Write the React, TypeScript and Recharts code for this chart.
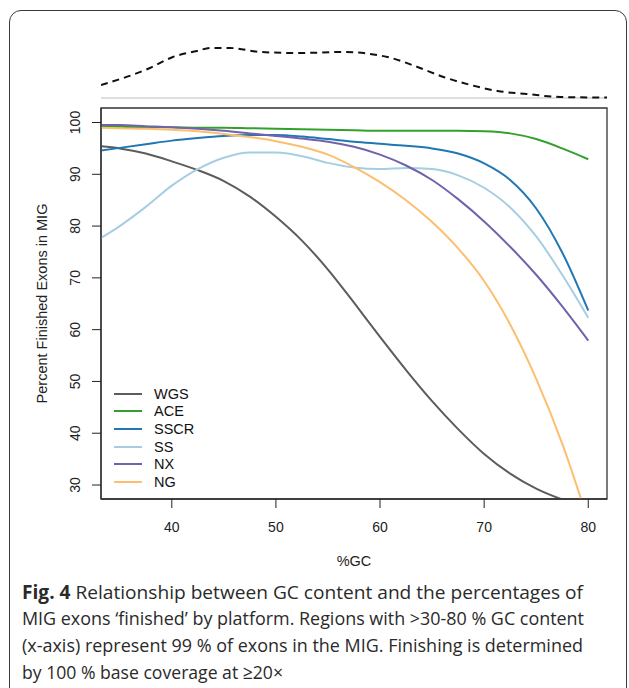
import React from 'react';
import { LineChart, Line, XAxis, YAxis, Legend, Label, ReferenceArea, ReferenceLine } from 'recharts';

// %GC sample positions shared by every platform curve
const gcPoints = [33.2, 35, 37.5, 40, 42.5, 45, 47.5, 50, 52.5, 55, 57.5, 60, 62.5, 65, 67.5, 70, 72.5, 75, 77.5, 80];

const wgs = [95.4, 95.0, 94.0, 92.5, 90.8, 88.7, 85.7, 81.8, 77.2, 71.6, 65.2, 58.6, 52.2, 46.2, 40.8, 36.0, 32.2, 29.3, 27.2, 25.6];
const ace = [99.2, 99.2, 99.1, 99.1, 99.0, 99.0, 98.9, 98.8, 98.7, 98.6, 98.5, 98.4, 98.4, 98.4, 98.4, 98.3, 97.9, 96.8, 95.0, 92.9];
const sscr = [94.6, 95.1, 95.8, 96.5, 97.0, 97.4, 97.6, 97.6, 97.3, 96.8, 96.3, 95.9, 95.5, 95.0, 94.0, 92.1, 88.9, 83.4, 74.9, 63.7];
const ss = [77.7, 80.0, 83.7, 87.8, 91.0, 93.2, 94.2, 94.2, 93.5, 92.2, 91.3, 91.0, 91.2, 91.0, 89.8, 87.4, 83.6, 78.0, 70.6, 62.3];
const nx = [99.5, 99.5, 99.3, 99.1, 98.8, 98.4, 97.9, 97.4, 96.9, 96.3, 95.3, 93.8, 91.7, 88.9, 85.2, 80.9, 76.0, 70.6, 64.5, 57.9];
const ng = [99.0, 98.9, 98.8, 98.6, 98.3, 97.8, 97.2, 96.4, 95.3, 93.8, 91.4, 88.5, 85.0, 80.8, 75.7, 69.4, 61.0, 50.5, 38.0, 23.0];

// GC distribution (density, arbitrary units)
const densityX = [33.2, 37.9, 40.1, 42.4, 43.7, 45.6, 48.5, 52.3, 56.4, 60.7, 63.6, 66.1, 68.7, 71.3, 74.1, 77.3, 81.8];
const densityY = [0.26, 0.6, 0.82, 0.94, 1.0, 1.0, 0.92, 0.9, 0.92, 0.82, 0.62, 0.42, 0.26, 0.14, 0.08, 0.02, 0.01];

const yTicks = [30, 40, 50, 60, 70, 80, 90, 100];
const xTicks = [40, 50, 60, 70, 80];

const series = [
  { key: 'WGS', values: wgs, color: '#5c5c5c' },
  { key: 'ACE', values: ace, color: '#33a02c' },
  { key: 'SSCR', values: sscr, color: '#1f78b4' },
  { key: 'SS', values: ss, color: '#a6cee3' },
  { key: 'NX', values: nx, color: '#7262ac' },
  { key: 'NG', values: ng, color: '#fdbf6f' },
];

const captionLines = [
  { bold: 'Fig. 4', text: ' Relationship between GC content and the percentages of', len: 561 },
  { bold: '', text: 'MIG exons \u2018finished\u2019 by platform. Regions with >30-80 % GC content', len: 562 },
  { bold: '', text: '(x-axis) represent 99 % of exons in the MIG. Finishing is determined', len: 561 },
  { bold: '', text: 'by 100 % base coverage at \u226520\u00d7', len: 261 },
];

const data = gcPoints.map((gc, i) => {
  const row: any = { gc };
  series.forEach(s => { row[s.key] = s.values[i]; });
  return row;
});

const densityData = densityX.map((gc, i) => ({ gc, density: densityY[i] }));

const FONT = '"Liberation Sans", Arial, sans-serif';
const X_DOMAIN: [number, number] = [33.2, 81.8];
const Y_DOMAIN: [number, number] = [27.3, 102.8];

const YTick = ({ x, y, payload }: any) => (
  <text transform={`translate(${x - 10}, ${y}) rotate(-90)`} textAnchor="middle" fontSize={14} fontFamily={FONT} fill="#222">
    {payload.value}
  </text>
);

const XTick = ({ x, y, payload }: any) => (
  <text x={x} y={y + 22} textAnchor="middle" fontSize={14} fontFamily={FONT} fill="#222">
    {payload.value}
  </text>
);

const renderLegend = () => (
  <div style={{ fontFamily: FONT, fontSize: 14.5, color: '#111' }}>
    {series.map(s => (
      <div key={s.key} style={{ height: 17.6, display: 'flex', alignItems: 'center' }}>
        <svg width={28} height={4} style={{ marginRight: 12 }}>
          <line x1={0} y1={2} x2={28} y2={2} stroke={s.color} strokeWidth={2} />
        </svg>
        <span>{s.key}</span>
      </div>
    ))}
  </div>
);

export default function App() {
  return (
    <div style={{ position: 'absolute', left: 0, top: 0, width: 629, height: 688, background: '#fff', overflow: 'hidden' }}>
      <div style={{ position: 'absolute', left: 9, top: 10, width: 616, height: 720, border: '1.5px solid #3a3a3a', borderRadius: 12 }} />

      <div style={{ position: 'absolute', left: 0, top: 0 }}>
        <LineChart width={629} height={110} data={densityData} margin={{ top: 38, right: 22, left: 101, bottom: 12 }}>
          <XAxis dataKey="gc" type="number" domain={X_DOMAIN} allowDataOverflow hide />
          <YAxis domain={[0, 1.2]} width={0} tick={false} tickLine={false} axisLine={false}>
            <Label content={() => (
              <text transform="translate(47, 72) rotate(-90)" textAnchor="middle" fontSize={14.5} fontFamily={FONT} fill="#222">GC distribution</text>
            )} />
          </YAxis>
          <ReferenceLine y={0} stroke="#bdbdbd" strokeWidth={1.2} />
          <Line type="monotone" dataKey="density" stroke="#111" strokeWidth={2} strokeDasharray="7 5" dot={false} isAnimationActive={false} />
        </LineChart>
      </div>

      <div style={{ position: 'absolute', left: 0, top: 0 }}>
        <LineChart width={629} height={580} data={data} margin={{ top: 108, right: 22, left: 41, bottom: 31 }}>
          <XAxis dataKey="gc" type="number" domain={X_DOMAIN} allowDataOverflow ticks={xTicks} height={50} tickSize={9}
            tick={<XTick />} tickLine={{ stroke: '#222' }} axisLine={{ stroke: '#333', strokeWidth: 1.3 }}>
            <Label content={(props: any) => {
              const vb = props.viewBox || { x: 101, width: 506 };
              return <text x={vb.x + vb.width / 2} y={566} textAnchor="middle" fontSize={14.5} fontFamily={FONT} fill="#222">%GC</text>;
            }} />
          </XAxis>
          <YAxis domain={Y_DOMAIN} allowDataOverflow ticks={yTicks} width={60} tickSize={9}
            tick={<YTick />} tickLine={{ stroke: '#222' }} axisLine={{ stroke: '#333', strokeWidth: 1.3 }}>
            <Label content={(props: any) => {
              const vb = props.viewBox || { y: 108, height: 391 };
              return <text transform={`translate(47, ${vb.y + vb.height / 2}) rotate(-90)`} textAnchor="middle" fontSize={14.5} fontFamily={FONT} fill="#222">Percent Finished Exons in MIG</text>;
            }} />
          </YAxis>
          <ReferenceArea x1={X_DOMAIN[0]} x2={X_DOMAIN[1]} y1={Y_DOMAIN[0]} y2={Y_DOMAIN[1]} fill="none" fillOpacity={0} stroke="#333" strokeWidth={1.3} strokeOpacity={1} />
          <Legend layout="vertical" align="center" verticalAlign="middle" content={renderLegend}
            wrapperStyle={{ position: 'absolute', left: 114, top: 385, width: 120 }} />
          {series.map(s => (
            <Line key={s.key} type="monotone" dataKey={s.key} stroke={s.color} strokeWidth={2} dot={false} isAnimationActive={false} />
          ))}
        </LineChart>
      </div>

      <svg width={629} height={110} style={{ position: 'absolute', left: 0, top: 575 }}>
        {captionLines.map((l, i) => (
          <text key={i} x={22} y={23.5 + i * 26.7} textLength={l.len} lengthAdjust="spacingAndGlyphs"
            fontSize={19} fontFamily='"Open Sans", "Noto Sans", sans-serif' fill="#2a2a2a">
            {l.bold ? <tspan fontWeight="bold">{l.bold}</tspan> : null}
            {l.text}
          </text>
        ))}
      </svg>
    </div>
  );
}
